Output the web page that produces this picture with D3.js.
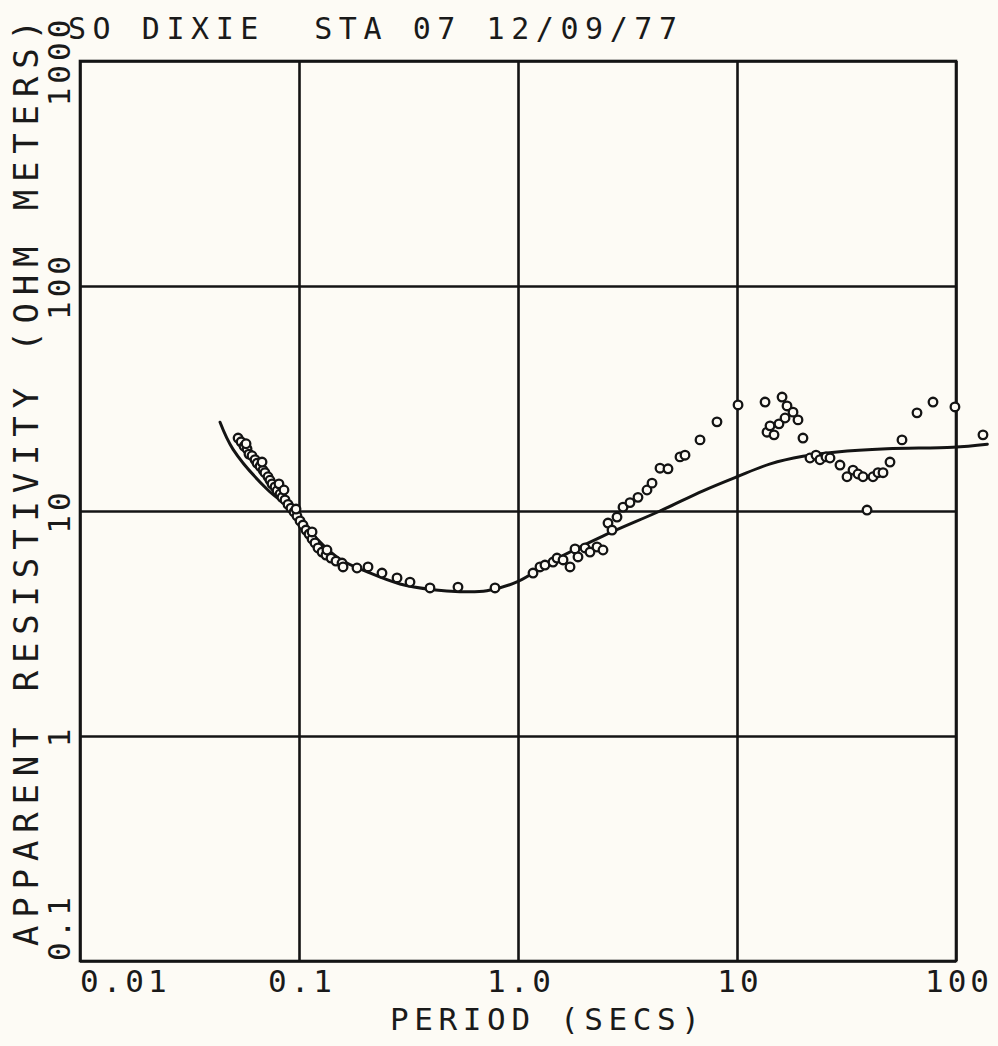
<!DOCTYPE html>
<html>
<head>
<meta charset="utf-8">
<script src="https://cdn.jsdelivr.net/npm/d3@7"></script>
<style>
  html, body { margin: 0; padding: 0; background: #fdfbf5; }
  svg { display: block; }
  text { font-family: "DejaVu Sans Mono", "Liberation Mono", monospace; fill: #1a1a1a; }
</style>
</head>
<body>
<svg id="chart" width="998" height="1046"></svg>
<script>
// ---------------- DATA ----------------
const titleText = "SO DIXIE  STA 07 12/09/77";
const xTitle = "PERIOD (SECS)";
const yTitle = "APPARENT RESISTIVITY (OHM METERS)";

const xTickValues = [0.01, 0.1, 1, 10, 100];
const xTickLabels = ["0.01", "0.1", "1.0", "10", "100"];
const yTickValues = [0.1, 1, 10, 100, 1000];
const yTickLabels = ["0.1", "1", "10", "100", "1000"];

// model curve (period s, apparent resistivity ohm-m)
const curvePeriod = [0.0436, 0.050, 0.0715, 0.098, 0.121, 0.154, 0.205, 0.289, 0.409, 0.543, 0.721, 0.989,
                     1.44, 2.44, 4.45, 7.0, 10.0, 14.2, 20.0, 28.6, 48.4, 96.9, 139];
const curveRho    = [24.8, 18.8, 12.5, 9.7, 7.5, 6.1, 5.36, 4.74, 4.47, 4.38, 4.42, 4.84,
                     6.0, 7.74, 10.0, 12.3, 14.2, 16.2, 17.5, 18.3, 18.9, 19.2, 19.8];

// observed data points
const dataPeriod = [
  0.0527, 0.0544, 0.0561, 0.0579, 0.0591, 0.0610, 0.0630, 0.0643, 0.0664, 0.0685, 0.0699, 0.0722,
  0.0737, 0.0753, 0.0777, 0.0794, 0.0819, 0.0836, 0.0863, 0.0891, 0.0919, 0.0949, 0.0979, 0.1011,
  0.1043, 0.1076, 0.1111, 0.1147, 0.1183, 0.1221, 0.1274, 0.1328, 0.1400, 0.1475, 0.1572,
  0.0573, 0.0678, 0.0810, 0.0854, 0.0969, 0.1147, 0.1342,
  0.1589, 0.1840, 0.2066, 0.2393, 0.2803, 0.3213, 0.3964, 0.5321, 0.7852,
  1.171, 1.260, 1.328, 1.445, 1.507, 1.606, 1.728, 1.821, 1.879, 2.023, 2.132, 2.295, 2.444,
  2.576, 2.687, 2.832, 3.017, 3.246, 3.531, 3.882, 4.092, 4.451, 4.841, 5.492, 5.789, 6.779,
  8.102, 10.11, 13.43, 16.06, 16.92, 18.02, 18.99, 20.01,
  13.71, 14.15, 14.76, 15.55, 16.57,
  21.54, 22.95, 23.93, 25.49, 26.59, 29.53, 31.79, 33.86, 35.69, 37.61, 39.24, 41.78, 44.04, 46.42,
  49.96, 56.67, 66.36, 78.52, 98.9, 132.8
];
const dataRho = [
  21.1, 20.3, 19.4, 18.9, 17.9, 17.6, 16.9, 16.3, 15.8, 15.2, 14.8, 14.2,
  13.7, 13.2, 12.8, 12.3, 11.9, 11.5, 11.2, 10.7, 10.3, 9.90, 9.50, 9.03,
  8.66, 8.23, 7.90, 7.51, 7.21, 6.85, 6.57, 6.37, 6.18, 5.99, 5.87,
  19.9, 16.5, 13.2, 12.4, 10.2, 8.07, 6.71,
  5.64, 5.58, 5.64, 5.30, 5.04, 4.83, 4.55, 4.59, 4.55,
  5.30, 5.64, 5.75, 5.93, 6.18, 6.06, 5.64, 6.78, 6.25, 6.85, 6.57, 6.92, 6.71,
  8.84, 8.23, 9.40, 10.4, 10.9, 11.5, 12.4, 13.3, 15.5, 15.4, 17.4, 17.7, 20.7,
  24.9, 29.6, 30.5, 32.1, 29.3, 27.5, 25.4, 21.1,
  22.4, 23.9, 21.8, 24.4, 25.9,
  17.2, 17.7, 16.9, 17.4, 17.2, 16.0, 14.2, 15.2, 14.6, 14.2, 10.1, 14.2, 14.8, 14.8,
  16.5, 20.7, 27.3, 30.5, 29.0, 21.8
];

// ---------------- CHART ----------------
const svg = d3.select("#chart");
const ink = "#141414";
const paper = "#fdfbf5";

const x = d3.scaleLog().domain([0.01, 100]).range([80, 956]);
const y = d3.scaleLog().domain([0.1, 1000]).range([961, 61]);
const [x0, x1] = x.range();
const [y0, y1] = y.range();

// gridlines via axes
svg.append("g")
  .attr("transform", `translate(0,${y0})`)
  .call(d3.axisBottom(x).tickValues(xTickValues).tickSize(-(y0 - y1)).tickFormat(""))
  .call(g => g.select(".domain").remove())
  .call(g => g.selectAll("line").attr("stroke", ink).attr("stroke-width", 2.6));

svg.append("g")
  .attr("transform", `translate(${x0},0)`)
  .call(d3.axisLeft(y).tickValues(yTickValues).tickSize(-(x1 - x0)).tickFormat(""))
  .call(g => g.select(".domain").remove())
  .call(g => g.selectAll("line").attr("stroke", ink).attr("stroke-width", 2.6));

// frame
svg.append("rect")
  .attr("x", x0).attr("y", y1)
  .attr("width", x1 - x0).attr("height", y0 - y1)
  .attr("fill", "none").attr("stroke", ink).attr("stroke-width", 2.6);

// x tick labels
svg.append("g").selectAll("text")
  .data(xTickValues)
  .join("text")
  .attr("x", (d, i) => i === 0 ? x(d) : x(d) + 3)
  .attr("y", 992)
  .attr("text-anchor", (d, i) => i === 0 ? "start" : "middle")
  .style("font-size", "31px")
  .style("letter-spacing", "4px")
  .text((d, i) => xTickLabels[i]);

// y tick labels (rotated)
svg.append("g").selectAll("text")
  .data(yTickValues)
  .join("text")
  .attr("transform", d => `translate(70,${y(d)}) rotate(-90)`)
  .attr("text-anchor", (d, i) => i === 0 ? "start" : "middle")
  .style("font-size", "31px")
  .style("letter-spacing", "4px")
  .text((d, i) => yTickLabels[i]);

// title
svg.append("text")
  .attr("x", 68).attr("y", 39)
  .attr("textLength", 609).attr("lengthAdjust", "spacing")
  .style("font-size", "30px")
  .style("white-space", "pre")
  .attr("xml:space", "preserve")
  .text(titleText);

// x axis title
svg.append("text")
  .attr("x", 390).attr("y", 1030)
  .attr("textLength", 310).attr("lengthAdjust", "spacing")
  .style("font-size", "31px")
  .text(xTitle);

// y axis title
svg.append("text")
  .attr("transform", "translate(38,946) rotate(-90)")
  .attr("textLength", 926).attr("lengthAdjust", "spacing")
  .style("font-size", "34px")
  .text(yTitle);

// model curve
const curvePts = curvePeriod.map((p, i) => [p, curveRho[i]]);
svg.append("path")
  .datum(curvePts)
  .attr("fill", "none")
  .attr("stroke", ink)
  .attr("stroke-width", 3)
  .attr("stroke-linecap", "round")
  .attr("d", d3.line().x(d => x(d[0])).y(d => y(d[1])).curve(d3.curveCatmullRom.alpha(0.5)));

// data points
const dataPts = dataPeriod.map((p, i) => [p, dataRho[i]]);
svg.append("g").selectAll("circle")
  .data(dataPts)
  .join("circle")
  .attr("cx", d => x(d[0]))
  .attr("cy", d => y(d[1]))
  .attr("r", 4.3)
  .attr("fill", paper)
  .attr("stroke", ink)
  .attr("stroke-width", 2.3);
</script>
</body>
</html>
